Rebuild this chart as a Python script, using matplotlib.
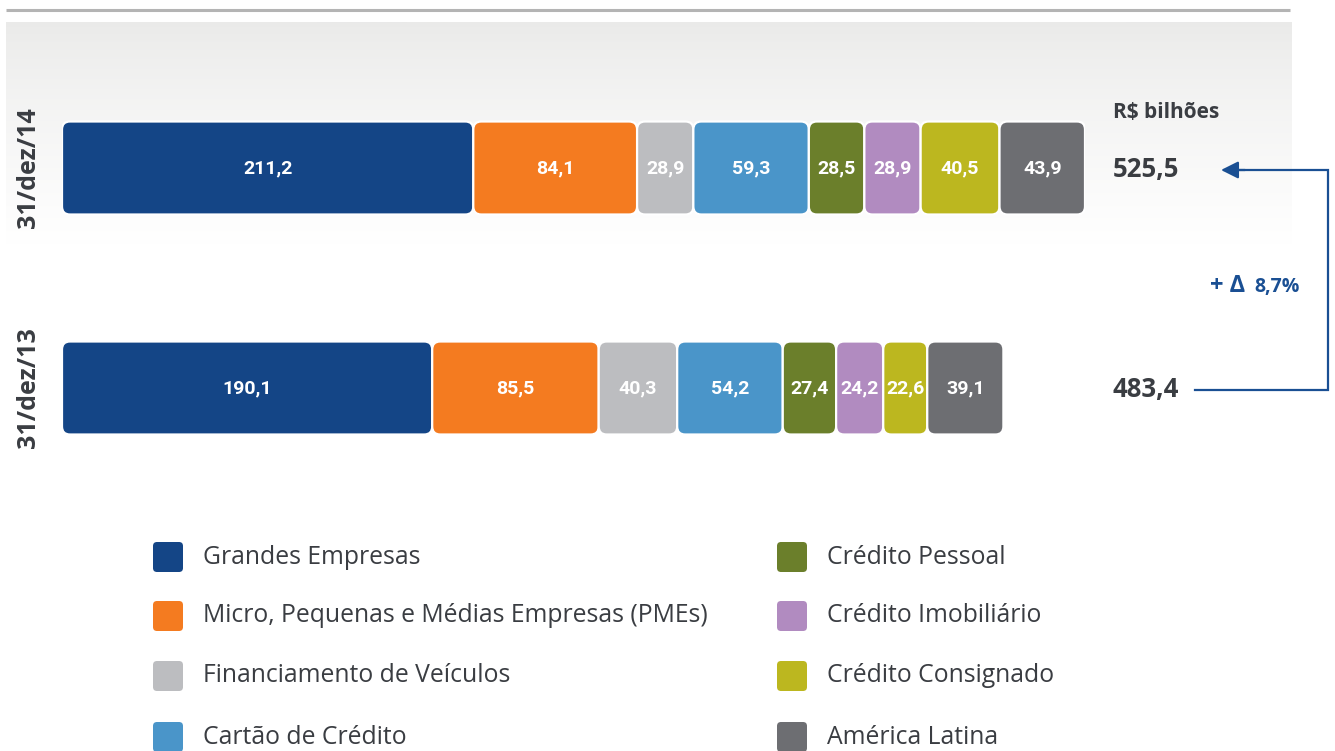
import numpy as np
import matplotlib
matplotlib.use("Agg")
import matplotlib.pyplot as plt
from matplotlib.patches import FancyBboxPatch
from matplotlib.colors import to_rgb

# carteira de credito por segmento, R$ bilhoes
periods = ["31/dez/14", "31/dez/13"]
totals = ["525,5", "483,4"]
segments = ["Grandes Empresas", "Micro, Pequenas e Médias Empresas (PMEs)",
            "Financiamento de Veículos", "Cartão de Crédito",
            "Crédito Pessoal", "Crédito Imobiliário",
            "Crédito Consignado", "América Latina"]
values_14 = [211.2, 84.1, 28.9, 59.3, 28.5, 28.9, 40.5, 43.9]
values_13 = [190.1, 85.5, 40.3, 54.2, 27.4, 24.2, 22.6, 39.1]
colors = ["#144586", "#f47b20", "#bcbdc0", "#4a95c9",
          "#6b7f2b", "#b18bc0", "#bcb71f", "#6d6e72"]
change_txt = "8,7%"

W, H = 1335, 751
dark = "#3a3d42"
blue = "#1a4f93"
cond = ["Roboto", "DejaVu Sans"]
body = ["Open Sans", "DejaVu Sans"]

fig = plt.figure(figsize=(W / 100, H / 100), dpi=100)

# fundo em pixels: linha do topo, degrade cinza, seta, legenda
bg = fig.add_axes([0, 0, 1, 1], zorder=0)
bg.set_xlim(0, W)
bg.set_ylim(H, 0)
bg.axis("off")
bg.plot([6, 1290], [10, 10], color="#b4b4b4", lw=2.2, solid_capstyle="butt")
top_c = np.array(to_rgb("#eaeae9"))
grad = np.linspace(0, 1, 200)[:, None, None] ** 0.8
img = top_c * (1 - grad) + np.ones(3) * grad
bg.imshow(img, extent=[6, 1292, 245, 22], aspect="auto", interpolation="bilinear")

# barras empilhadas
ax = fig.add_axes([62 / W, 1 - 498 / H, 1023 / W, 440 / H], zorder=1)
ax.patch.set_alpha(0)
xmax = max(sum(values_14), sum(values_13))
ax.set_xlim(0, xmax)
ax.set_ylim(-0.5, 1.5)
px_x = 1023 / xmax
px_y = 440 / 2.0
bar_h = 93 / px_y
r = 8 / px_x

for ypos, vals in zip([1, 0], [values_14, values_13]):
    left = 0
    for v, c in zip(vals, colors):
        box = FancyBboxPatch((left, ypos - bar_h / 2), v, bar_h,
                             boxstyle=f"round,pad=0,rounding_size={r}",
                             mutation_aspect=px_x / px_y,
                             fc=c, ec="white", lw=1.6)
        ax.add_patch(box)
        ax.text(left + v / 2, ypos, f"{v:.1f}".replace(".", ","),
                ha="center", va="center", color="white",
                fontsize=14, fontweight="bold", family=cond)
        left += v

ax.set_yticks([1, 0], periods, rotation=90, va="center",
              fontsize=18, fontweight="bold", color=dark, family=body)
ax.tick_params(axis="y", length=0, pad=15)
ax.set_xticks([])
for s in ax.spines.values():
    s.set_visible(False)

yt = ax.get_yaxis_transform()
ax.text(1.027, 1 + (168 - 112) / px_y, "R$ bilhões", transform=yt,
        ha="left", va="center", fontsize=15, fontweight="bold",
        color=dark, family=body)
for ypos, t in zip([1, 0], totals):
    ax.text(1.027, ypos - 2 / px_y, t, transform=yt, ha="left", va="center",
            fontsize=18.5, fontweight="bold", color=dark, family=body)

# seta de variacao
bg.plot([1195, 1328, 1328, 1240], [390, 390, 170, 170], color=blue, lw=1.6,
        solid_joinstyle="miter")
bg.annotate("", xy=(1221, 170), xytext=(1245, 170),
            arrowprops=dict(arrowstyle="-|>", color=blue, lw=1.6,
                            mutation_scale=26, shrinkA=0, shrinkB=0))
bg.text(1210, 292, "+ Δ", ha="left", va="baseline", fontsize=17,
        fontweight="bold", color=blue, family=body)
bg.text(1254, 292, change_txt, ha="left", va="baseline", fontsize=14,
        fontweight="bold", color=blue, family=body)

# legenda
rows_y = [557, 616, 676, 737]
for i, (lab, c) in enumerate(zip(segments, colors)):
    col, row = divmod(i, 4)
    x0 = 153 if col == 0 else 777
    y0 = rows_y[row]
    bg.add_patch(FancyBboxPatch((x0, y0 - 15), 30, 30,
                                boxstyle="round,pad=0,rounding_size=4",
                                fc=c, ec="none"))
    bg.text(x0 + 50, y0, lab, ha="left", va="center", fontsize=17.8,
            color=dark, family=body)

fig.savefig("out.png", dpi=100)
